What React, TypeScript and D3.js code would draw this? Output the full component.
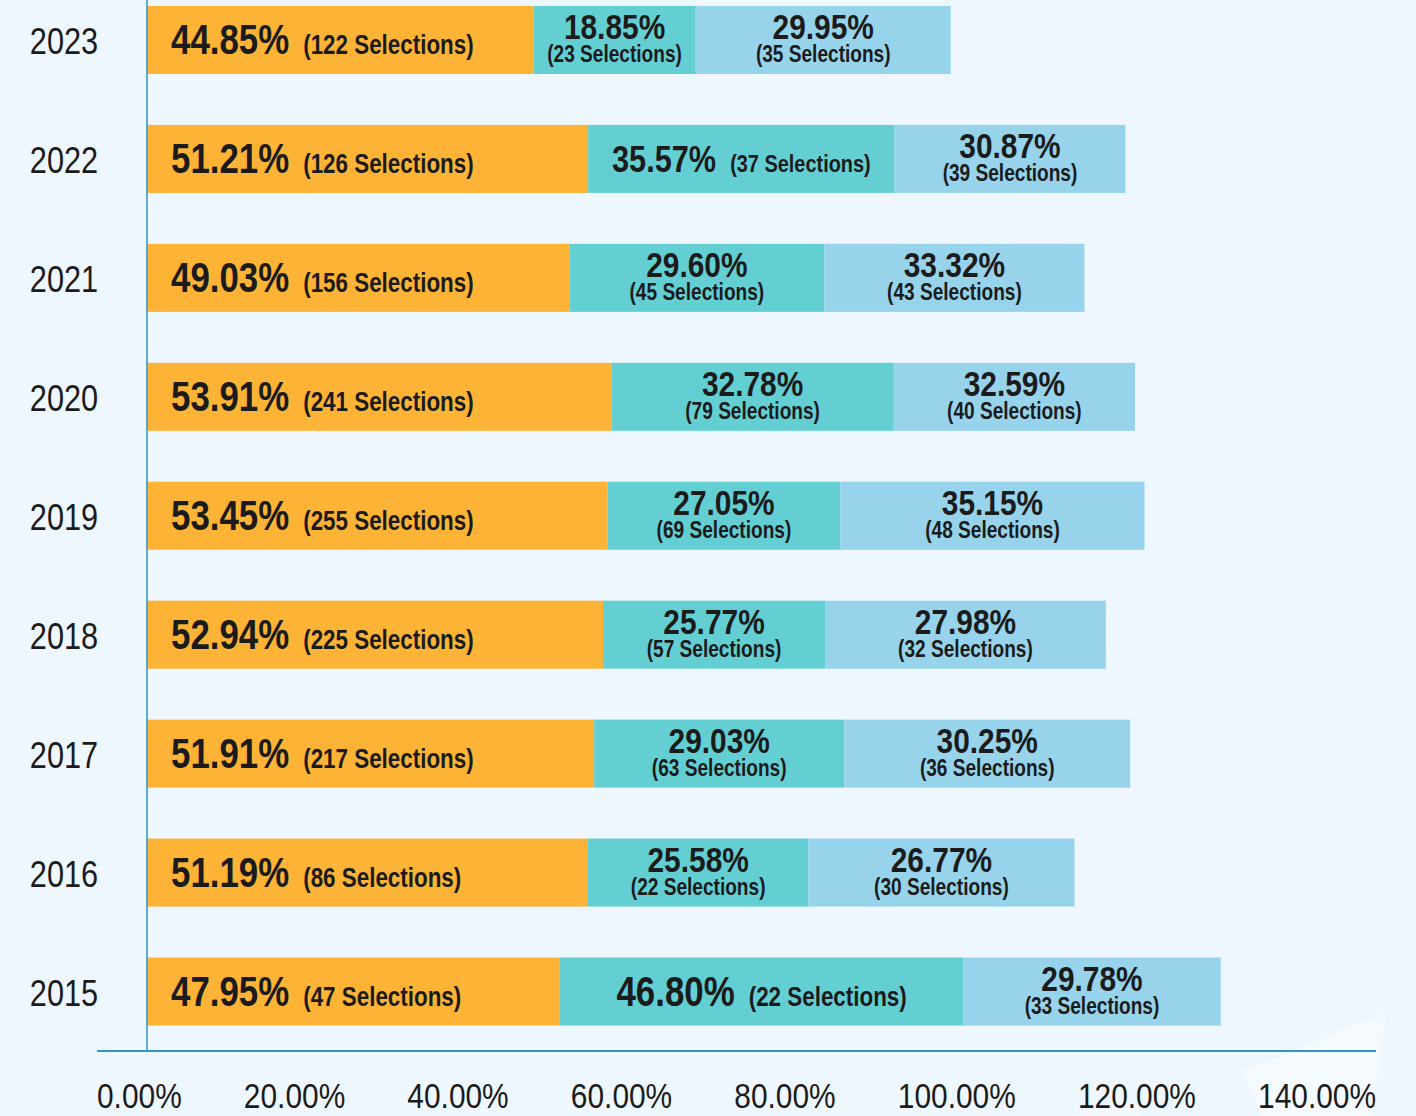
import { useEffect, useRef } from "react";
import * as d3 from "d3";

// chart values, top row first
const years = ["2023", "2022", "2021", "2020", "2019", "2018", "2017", "2016", "2015"];
const firstPct = [44.85, 51.21, 49.03, 53.91, 53.45, 52.94, 51.91, 51.19, 47.95];
const firstSel = [122, 126, 156, 241, 255, 225, 217, 86, 47];
const secondPct = [18.85, 35.57, 29.6, 32.78, 27.05, 25.77, 29.03, 25.58, 46.8];
const secondSel = [23, 37, 45, 79, 69, 57, 63, 22, 22];
const thirdPct = [29.95, 30.87, 33.32, 32.59, 35.15, 27.98, 30.25, 26.77, 29.78];
const thirdSel = [35, 39, 43, 40, 48, 32, 36, 30, 33];
// the third segment is drawn shorter/longer than its label in the source picture
const thirdBarLen = [29.6, 26.8, 30.2, 28.0, 35.3, 32.6, 33.2, 30.9, 29.9];
const tickValues = [0, 20, 40, 60, 80, 100, 120, 140];

const W = 1416;
const H = 1116;
const FONT = "'Liberation Sans', Arial, sans-serif";
const NARROW = 0.83; // squeeze Liberation Sans into a condensed face
const BG = "#eff7fe";
const COLORS = ["#fdb436", "#64cfd3", "#97d4ec"];
const AXIS = "#2f93cc";
const INK = "#1b1b1b";

type Sel = d3.Selection<any, any, any, any>;

// condensed text: a group placed at (x, y), squeezed horizontally
const narrowText = (parent: Sel, x: number, y: number, anchor: string) =>
  parent
    .append("g")
    .attr("transform", `translate(${x},${y}) scale(${NARROW},1)`)
    .append("text")
    .attr("text-anchor", anchor)
    .attr("fill", INK);

const App = () => {
  const containerRef = useRef<HTMLDivElement>(null);

  useEffect(() => {
    if (!containerRef.current) return;
    containerRef.current.innerHTML = "";
    document.body.style.margin = "0";
    document.body.style.background = BG;

    const x = d3.scaleLinear().domain([0, 140]).range([147, 1353]);
    const y = d3
      .scaleBand<string>()
      .domain(years)
      .range([-19.5, 1051])
      .paddingInner(0.428)
      .paddingOuter(0.214);
    const bh = y.bandwidth();

    const svg = d3
      .create("svg")
      .attr("width", W)
      .attr("height", H)
      .attr("style", `display:block; background:${BG}; font-family:${FONT};`);

    // faint decorative shapes bottom right
    svg
      .append("polygon")
      .attr("points", "1386,1012 1243,1072 1262,1116 1372,1116")
      .attr("fill", "#ffffff")
      .attr("opacity", 0.35);
    svg
      .append("polygon")
      .attr("points", "1068,1116 1126,1098 1140,1116")
      .attr("fill", "#ffffff")
      .attr("opacity", 0.3);

    const rows = years.map((yr, i) => {
      const segs = [
        { pct: firstPct[i], sel: firstSel[i], start: 0, len: firstPct[i] },
        { pct: secondPct[i], sel: secondSel[i], start: firstPct[i], len: secondPct[i] },
        {
          pct: thirdPct[i],
          sel: thirdSel[i],
          start: firstPct[i] + secondPct[i],
          len: thirdBarLen[i],
        },
      ];
      return { yr, segs };
    });

    const gRow = svg
      .selectAll("g.row")
      .data(rows)
      .join("g")
      .attr("class", "row")
      .attr("transform", (d) => `translate(0,${y(d.yr)})`);

    gRow
      .selectAll("rect")
      .data((d) => d.segs)
      .join("rect")
      .attr("x", (d) => x(d.start))
      .attr("y", 0)
      .attr("width", (d) => x(d.start + d.len) - x(d.start))
      .attr("height", bh)
      .attr("fill", (_d, k) => COLORS[k]);

    const fmt = (v: number) => `${v.toFixed(2)}%`;

    gRow.each(function (row) {
      const g = d3.select(this);

      // year label
      narrowText(g, 64, bh / 2 + 14, "middle").attr("font-size", 37).text(row.yr);

      row.segs.forEach((s, k) => {
        const cx = (x(s.start) + x(s.start + s.len)) / 2;
        if (k === 0) {
          const t = narrowText(g, x(0) + 24, bh / 2 + 14, "start").attr("font-weight", "bold");
          t.append("tspan").attr("font-size", 42).text(fmt(s.pct));
          t.append("tspan")
            .attr("dx", 14 / NARROW)
            .attr("font-size", 27)
            .text(`(${s.sel} Selections)`);
        } else if (k === 1 && s.pct > 35) {
          const big = s.pct > 40;
          const t = narrowText(g, cx, bh / 2 + (big ? 14 : 13), "middle").attr(
            "font-weight",
            "bold",
          );
          t.append("tspan").attr("font-size", big ? 42 : 37).text(fmt(s.pct));
          t.append("tspan")
            .attr("dx", 14 / NARROW)
            .attr("font-size", big ? 27 : 24)
            .text(`(${s.sel} Selections)`);
        } else {
          narrowText(g, cx, bh / 2 - 1, "middle")
            .attr("font-weight", "bold")
            .attr("font-size", 36)
            .text(fmt(s.pct));
          narrowText(g, cx, bh / 2 + 22, "middle")
            .attr("font-weight", "bold")
            .attr("font-size", 23)
            .text(`(${s.sel} Selections)`);
        }
      });
    });

    // axes lines
    svg
      .append("line")
      .attr("x1", x(0))
      .attr("x2", x(0))
      .attr("y1", 0)
      .attr("y2", 1051)
      .attr("stroke", AXIS)
      .attr("stroke-width", 1.5);
    svg
      .append("line")
      .attr("x1", 97)
      .attr("x2", 1376)
      .attr("y1", 1051)
      .attr("y2", 1051)
      .attr("stroke", AXIS)
      .attr("stroke-width", 2);

    containerRef.current.appendChild(svg.node() as Node);

    // tick labels are spread evenly across the axis line width (equal gaps)
    const tickG = svg
      .append("g")
      .selectAll("g")
      .data(tickValues)
      .join("g");
    const ticks = tickG
      .append("text")
      .attr("font-size", 36)
      .attr("fill", INK)
      .text((d) => `${d.toFixed(2)}%`);
    const widths: number[] = [];
    ticks.each(function () {
      widths.push((this as SVGTextElement).getComputedTextLength() * NARROW);
    });
    const total = d3.sum(widths);
    const gap = (1376 - 97 - total) / (tickValues.length - 1);
    let cursor = 97;
    tickG.attr("transform", (_d, i) => {
      const pos = cursor;
      cursor += widths[i] + gap;
      return `translate(${pos},1108) scale(${NARROW},1)`;
    });
  }, []);

  return <div ref={containerRef} />;
};

export default App;
